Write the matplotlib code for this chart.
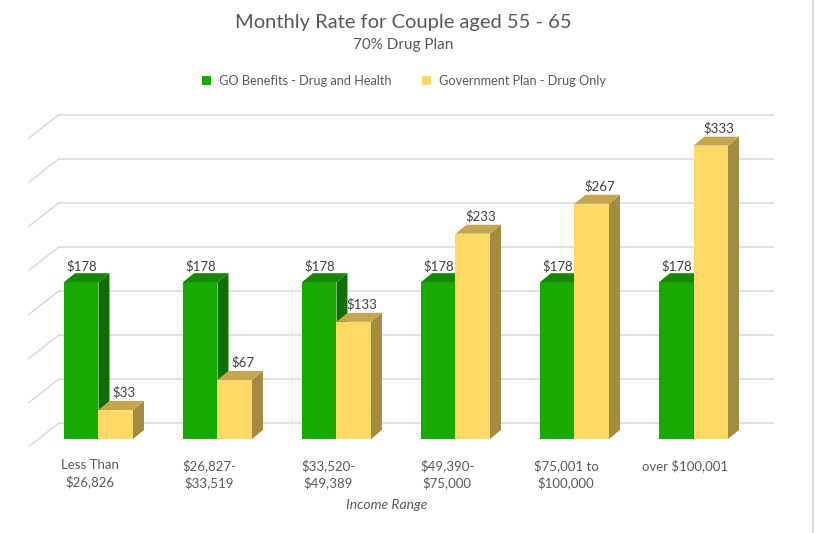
import matplotlib
matplotlib.use("Agg")
import matplotlib.pyplot as plt
from matplotlib.patches import Polygon, Patch
from matplotlib.lines import Line2D

# data
categories = ["Less Than\n$26,826", "$26,827-\n$33,519", "$33,520-\n$49,389",
              "$49,390-\n$75,000", "$75,001 to\n$100,000", "over $100,001"]
go_benefits = [178, 178, 178, 178, 178, 178]
gov_plan = [33, 67, 133, 233, 267, 333]
series_names = ["GO Benefits - Drug and Health", "Government Plan - Drug Only"]
grid_values = [0, 50, 100, 150, 200, 250, 300, 350]

FONT = ["Lato", "DejaVu Sans"]
TXT = "#595959"

# colours: front, side, top
GREEN = ("#19aa02", "#0f6f00", "#168701")
YELLOW = ("#ffd966", "#a58b3f", "#c4a651")

W = 0.29        # bar width in category units
DX = 0.092      # bar depth, horizontal
DY = 10.2       # bar depth, vertical ($)
WALL_DY = 18.2  # back wall offset above bar front
SIDE_DX = -0.252
SIDE_DY = -26.6
WALL_X0, WALL_X1 = -0.332, 5.676

fig = plt.figure(figsize=(8.15, 5.33), dpi=100)
ax = fig.add_axes([0, 0, 1, 1])
ax.set_xlim(-0.8277, 6.021)
ax.set_ylim(-106.7, 498.3)
ax.axis("off")

# back wall gridlines + left side-wall diagonals
for g in grid_values:
    y = g + WALL_DY
    ax.plot([WALL_X0, WALL_X1], [y, y], color="#d9d9d9", lw=1.1, zorder=1,
            solid_capstyle="butt")
    ax.plot([WALL_X0 + SIDE_DX, WALL_X0], [y + SIDE_DY, y], color="#d9d9d9",
            lw=1.1, zorder=1)


def bar3d(x0, h, cols, z, label_dx, label_dy):
    front, side, top = cols
    ax.bar(x0, h, width=W, align="edge", color=front, edgecolor="none", zorder=z)
    x1 = x0 + W
    ax.add_patch(Polygon([(x1, 0), (x1 + DX, DY), (x1 + DX, h + DY), (x1, h)],
                         closed=True, facecolor=side, edgecolor="none", zorder=z))
    ax.add_patch(Polygon([(x0, h), (x1, h), (x1 + DX, h + DY), (x0 + DX, h + DY)],
                         closed=True, facecolor=top, edgecolor="none", zorder=z))
    ax.text(x0 + W / 2 + label_dx, h + DY + label_dy, f"${h}", ha="center",
            va="bottom", fontsize=9.5, color="#404040", family=FONT, zorder=20)


for i, (a, b) in enumerate(zip(go_benefits, gov_plan)):
    bar3d(i - W, a, GREEN, 3 + 2 * i, 0.0, 1.0)
    bar3d(i, b, YELLOW, 4 + 2 * i, 0.067, 2.5)
    ax.text(i - 0.07, -23.0, categories[i], ha="center", va="top",
            fontsize=9.5, color=TXT, family=FONT, linespacing=1.35)

# titles
fig.text(403 / 815, 1 - 22 / 533, "Monthly Rate for Couple aged 55 - 65",
         ha="center", va="center", fontsize=14.5, color=TXT, family=FONT)
fig.text(403 / 815, 1 - 45 / 533, "70% Drug Plan",
         ha="center", va="center", fontsize=11, color=TXT, family=FONT)
fig.text(387 / 815, 1 - 505 / 533, "Income Range", ha="center", va="center",
         fontsize=10, color=TXT, family=FONT, style="italic")

handles = [Patch(facecolor=GREEN[0]), Patch(facecolor=YELLOW[0])]
fig.legend(handles, series_names, loc="center", ncol=2,
           bbox_to_anchor=(404 / 815, 1 - 81 / 533), frameon=False,
           handlelength=0.7, handleheight=0.7, handletextpad=0.6,
           columnspacing=2.4, prop={"family": FONT, "size": 9.2},
           labelcolor=TXT)

# spreadsheet border on the right edge
fig.add_artist(Line2D([812.5 / 815] * 2, [0, 1], color="#d4d4d4", lw=1.2))

fig.savefig("out.png", dpi=100, facecolor="white")
